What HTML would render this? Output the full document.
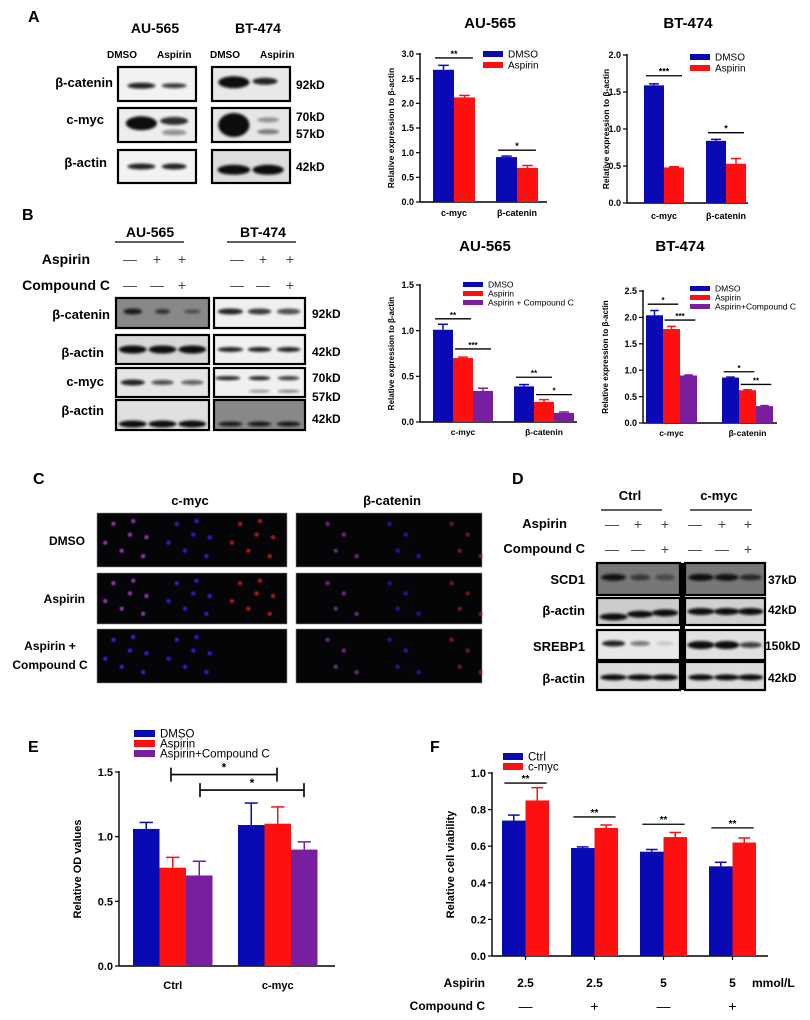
<!DOCTYPE html>
<html><head><meta charset="utf-8"><style>
html,body{margin:0;padding:0;background:#fff}
svg{display:block;font-family:"Liberation Sans",Arial,sans-serif}
text{font-weight:bold}
</style></head><body>
<svg id="fig" width="810" height="1020" viewBox="0 0 810 1020" xmlns="http://www.w3.org/2000/svg">
<defs><filter id="bl" x="-20%" y="-50%" width="140%" height="200%"><feGaussianBlur stdDeviation="1.2"/></filter>
<filter id="bl2"><feGaussianBlur stdDeviation="0.8"/></filter></defs>
<g id="static">
<text x="28" y="22" font-size="16">A</text>
<text x="155" y="33" font-size="14" text-anchor="middle">AU-565</text>
<text x="258" y="33" font-size="14" text-anchor="middle">BT-474</text>
<text x="107" y="58" font-size="10">DMSO</text>
<text x="157" y="58" font-size="10">Aspirin</text>
<text x="210" y="58" font-size="10">DMSO</text>
<text x="260" y="58" font-size="10">Aspirin</text>
<text x="22" y="220" font-size="16">B</text>
<text x="150" y="237" font-size="14" text-anchor="middle">AU-565</text>
<line x1="115" y1="242" x2="184" y2="242" stroke="#000" stroke-width="1.2"/>
<text x="263" y="237" font-size="14" text-anchor="middle">BT-474</text>
<line x1="227" y1="242" x2="296" y2="242" stroke="#000" stroke-width="1.2"/>
<text x="90" y="264" font-size="14" text-anchor="end">Aspirin</text>
<text x="110" y="290" font-size="14" text-anchor="end">Compound C</text>
<text x="33" y="484" font-size="16">C</text>
<text x="190" y="505" font-size="13" text-anchor="middle">c-myc</text>
<text x="392" y="505" font-size="13" text-anchor="middle">β-catenin</text>
<text x="85" y="545" font-size="12" text-anchor="end">DMSO</text>
<text x="85" y="603" font-size="12" text-anchor="end">Aspirin</text>
<text x="50" y="650" font-size="12" text-anchor="middle">Aspirin +</text>
<text x="50" y="669" font-size="12" text-anchor="middle">Compound C</text>
<text x="512" y="484" font-size="16">D</text>
<text x="630" y="500" font-size="13" text-anchor="middle">Ctrl</text>
<line x1="601" y1="510" x2="662" y2="510" stroke="#000" stroke-width="1.2"/>
<text x="719" y="500" font-size="13" text-anchor="middle">c-myc</text>
<line x1="690" y1="510" x2="752" y2="510" stroke="#000" stroke-width="1.2"/>
<text x="567" y="528" font-size="13" text-anchor="end">Aspirin</text>
<text x="585" y="553" font-size="13" text-anchor="end">Compound C</text>
<text x="28" y="752" font-size="16">E</text>
<text x="430" y="752" font-size="16">F</text>
<text x="485" y="987" font-size="12" text-anchor="end">Aspirin</text>
<text x="485" y="1010" font-size="12" text-anchor="end">Compound C</text>
<text x="752" y="987" font-size="12">mmol/L</text>
</g>
</svg>
<script>
// ---------- chart data ----------
const catsAB = ["c-myc", "β-catenin"];
const a1Dmso = [2.68, 0.91], a1DmsoErr = [0.09, 0.02];
const a1Asp = [2.12, 0.69], a1AspErr = [0.04, 0.05];
const a1Ticks = ["0.0","0.5","1.0","1.5","2.0","2.5","3.0"];
const a2Dmso = [1.59, 0.84], a2DmsoErr = [0.02, 0.02];
const a2Asp = [0.48, 0.53], a2AspErr = [0.01, 0.07];
const a2Ticks = ["0.0","0.5","1.0","1.5","2.0"];
const b1Dmso = [1.01, 0.39], b1DmsoErr = [0.06, 0.02];
const b1Asp = [0.70, 0.22], b1AspErr = [0.01, 0.025];
const b1Cc = [0.34, 0.10], b1CcErr = [0.03, 0.01];
const b1Ticks = ["0.0","0.5","1.0","1.5"];
const b2Dmso = [2.04, 0.86], b2DmsoErr = [0.09, 0.01];
const b2Asp = [1.78, 0.62], b2AspErr = [0.05, 0.01];
const b2Cc = [0.90, 0.32], b2CcErr = [0.01, 0.01];
const b2Ticks = ["0.0","0.5","1.0","1.5","2.0","2.5"];
const eCats = ["Ctrl", "c-myc"];
const eDmso = [1.06, 1.09], eDmsoErr = [0.05, 0.17];
const eAsp = [0.76, 1.10], eAspErr = [0.08, 0.13];
const eCc = [0.70, 0.90], eCcErr = [0.11, 0.06];
const eTicks = ["0.0","0.5","1.0","1.5"];
const fAspirinDose = ["2.5", "2.5", "5", "5"];
const fCompoundC = ["—", "+", "—", "+"];
const fCtrl = [0.74, 0.59, 0.57, 0.49], fCtrlErr = [0.03, 0.006, 0.012, 0.022];
const fCmyc = [0.85, 0.70, 0.65, 0.62], fCmycErr = [0.07, 0.016, 0.025, 0.025];
const fTicks = ["0.0","0.2","0.4","0.6","0.8","1.0"];

const BLUE = "#0a0ab4", RED = "#ff1010", PURPLE = "#7a1ea0";
const NS = "http://www.w3.org/2000/svg";
const svg = document.getElementById("fig");
function el(tag, attrs, parent, txt) {
  const e = document.createElementNS(NS, tag);
  for (const k in attrs) e.setAttribute(k, attrs[k]);
  if (txt !== undefined) e.textContent = txt;
  (parent || svg).appendChild(e);
  return e;
}

function chart(c) {
  const g = el("g", {});
  
  
  const maxV = parseFloat(c.ticks[c.ticks.length - 1]);
  const y = v => c.y0 - (v / maxV) * (c.y0 - c.yTop);
  el("line", {x1: c.ax, y1: c.yTop - 1, x2: c.ax, y2: c.y0, stroke: "#000", "stroke-width": 1.4}, g);
  el("line", {x1: c.ax, y1: c.y0, x2: c.axEnd, y2: c.y0, stroke: "#000", "stroke-width": 1.4}, g);
  c.ticks.forEach(t => {
    const ty = y(parseFloat(t));
    el("line", {x1: c.ax - 4, y1: ty, x2: c.ax, y2: ty, stroke: "#000", "stroke-width": 1.2}, g);
    const lab = el("text", {x: c.ax - 6, y: ty + c.tf * 0.36, "font-size": c.tf, "text-anchor": "end"}, g, t);
    
    
  });
  const yt = el("text", {x: 0, y: 0, "font-size": c.yf, "text-anchor": "middle", transform: `translate(${c.ytX},${(c.y0 + c.yTop) / 2}) rotate(-90)`}, g, c.yTitle);
  
  
  const nS = c.series.length;
  c.groupX.forEach((gx, gi) => {
    c.series.forEach((s, si) => {
      const x = gx + si * c.bw;
      const v = s.vals[gi], e = s.errs[gi];
      const b = el("rect", {x: x, y: y(v), width: c.bw, height: c.y0 - y(v), fill: s.color}, g);
      
      
      const cx = x + c.bw / 2;
      el("line", {x1: cx, y1: y(v), x2: cx, y2: y(v + e), stroke: s.color, "stroke-width": 1.5}, g);
      el("line", {x1: cx - c.bw * 0.25, y1: y(v + e), x2: cx + c.bw * 0.25, y2: y(v + e), stroke: s.color, "stroke-width": 1.5}, g);
    });
    if (c.cats) {
      const cl = el("text", {x: gx + nS * c.bw / 2, y: c.catY, "font-size": c.cf, "text-anchor": "middle"}, g, c.cats[gi]);
      
      
    }
  });
  (c.sig || []).forEach(s => {
    const x1 = c.groupX[s.g] + s.a * c.bw + c.bw * 0.1, x2 = c.groupX[s.g] + (s.b + 1) * c.bw - c.bw * 0.1;
    const yy = y(s.v);
    el("line", {x1: x1, y1: yy, x2: x2, y2: yy, stroke: "#000", "stroke-width": 1.3}, g);
    el("text", {x: (x1 + x2) / 2, y: yy - 1, "font-size": c.sf, "text-anchor": "middle"}, g, s.t);
  });
  c.series.forEach((s, si) => {
    const ly = c.legY + si * c.legDy;
    const lr = el("rect", {x: c.legX, y: ly, width: c.legW, height: c.legH, fill: s.color}, g);
    
    
    const lt = el("text", {x: c.legX + c.legW + 5, y: ly + c.legH / 2 + c.lf * 0.36, "font-size": c.lf, style: "font-weight:normal"}, g, s.label);
    
    
  });
  if (c.title) {
    const tt = el("text", {x: c.titleX, y: c.titleY, "font-size": 15, "text-anchor": "middle"}, g, c.title);
    
    
  }
  return y;
}

const yTitleAB = "Relative expression to β-actin";
chart({name: "chart-a-au565", title: "AU-565", titleX: 490, titleY: 28, ax: 420, axEnd: 547, y0: 202, yTop: 54, ticks: a1Ticks, tf: 9, yf: 8.5, ytX: 394, yTitle: yTitleAB,
  groupX: [433, 496], bw: 21, cats: catsAB, catY: 216, cf: 9,
  series: [{key: "dmso", label: "DMSO", color: BLUE, vals: a1Dmso, errs: a1DmsoErr}, {key: "aspirin", label: "Aspirin", color: RED, vals: a1Asp, errs: a1AspErr}],
  sig: [{g: 0, a: 0, b: 1, v: 2.92, t: "**"}, {g: 1, a: 0, b: 1, v: 1.05, t: "*"}], sf: 9,
  legX: 483, legY: 51, legDy: 11, legW: 20, legH: 6, lf: 10});
chart({name: "chart-a-bt474", title: "BT-474", titleX: 688, titleY: 28, ax: 627, axEnd: 748, y0: 203, yTop: 55, ticks: a2Ticks, tf: 9, yf: 8.5, ytX: 609, yTitle: yTitleAB,
  groupX: [644, 706], bw: 20, cats: catsAB, catY: 219, cf: 9,
  series: [{key: "dmso", label: "DMSO", color: BLUE, vals: a2Dmso, errs: a2DmsoErr}, {key: "aspirin", label: "Aspirin", color: RED, vals: a2Asp, errs: a2AspErr}],
  sig: [{g: 0, a: 0, b: 1, v: 1.72, t: "***"}, {g: 1, a: 0, b: 1, v: 0.95, t: "*"}], sf: 9,
  legX: 690, legY: 54, legDy: 11, legW: 20, legH: 6, lf: 10});
chart({name: "chart-b-au565", title: "AU-565", titleX: 485, titleY: 251, ax: 420, axEnd: 577, y0: 422, yTop: 285, ticks: b1Ticks, tf: 9, yf: 8, ytX: 394, yTitle: yTitleAB,
  groupX: [433, 514], bw: 20, cats: catsAB, catY: 435, cf: 8.5,
  series: [{key: "dmso", label: "DMSO", color: BLUE, vals: b1Dmso, errs: b1DmsoErr}, {key: "aspirin", label: "Aspirin", color: RED, vals: b1Asp, errs: b1AspErr}, {key: "aspirin-cc", label: "Aspirin + Compound C", color: PURPLE, vals: b1Cc, errs: b1CcErr}],
  sig: [{g: 0, a: 0, b: 1, v: 1.13, t: "**"}, {g: 0, a: 1, b: 2, v: 0.80, t: "***"}, {g: 1, a: 0, b: 1, v: 0.49, t: "**"}, {g: 1, a: 1, b: 2, v: 0.30, t: "*"}], sf: 8,
  legX: 463, legY: 282, legDy: 9, legW: 20, legH: 5, lf: 8.5});
chart({name: "chart-b-bt474", title: "BT-474", titleX: 680, titleY: 251, ax: 643, axEnd: 777, y0: 423, yTop: 291, ticks: b2Ticks, tf: 9, yf: 8, ytX: 608, yTitle: yTitleAB,
  groupX: [646, 722], bw: 17, cats: catsAB, catY: 436, cf: 8.5,
  series: [{key: "dmso", label: "DMSO", color: BLUE, vals: b2Dmso, errs: b2DmsoErr}, {key: "aspirin", label: "Aspirin", color: RED, vals: b2Asp, errs: b2AspErr}, {key: "aspirin-cc", label: "Aspirin+Compound C", color: PURPLE, vals: b2Cc, errs: b2CcErr}],
  sig: [{g: 0, a: 0, b: 1, v: 2.25, t: "*"}, {g: 0, a: 1, b: 2, v: 1.95, t: "***"}, {g: 1, a: 0, b: 1, v: 0.97, t: "*"}, {g: 1, a: 1, b: 2, v: 0.73, t: "**"}], sf: 8,
  legX: 690, legY: 286, legDy: 9, legW: 20, legH: 5, lf: 8.5});
const yE = chart({name: "chart-e-od", ax: 119, axEnd: 335, y0: 966, yTop: 772, ticks: eTicks, tf: 11, yf: 11, ytX: 81, yTitle: "Relative OD values",
  groupX: [133, 238], bw: 26.5, cats: eCats, catY: 989, cf: 11,
  series: [{key: "dmso", label: "DMSO", color: BLUE, vals: eDmso, errs: eDmsoErr}, {key: "aspirin", label: "Aspirin", color: RED, vals: eAsp, errs: eAspErr}, {key: "aspirin-cc", label: "Aspirin+Compound C", color: PURPLE, vals: eCc, errs: eCcErr}],
  sig: [], sf: 11, legX: 134, legY: 730, legDy: 10, legW: 21, legH: 7, lf: 11.5});
[[171, 277, 1.48], [200, 304, 1.36]].forEach(b => {
  const yy = yE(b[2]);
  el("path", {d: `M${b[0]},${yy - 7}V${yy + 7}M${b[0]},${yy}H${b[1]}M${b[1]},${yy - 7}V${yy + 7}`, stroke: "#000", "stroke-width": 1.6, fill: "none"});
  el("text", {x: (b[0] + b[1]) / 2, y: yy - 3, "font-size": 12, "text-anchor": "middle"}, svg, "*");
});
const yF = chart({name: "chart-f-viability", ax: 492, axEnd: 768, y0: 956, yTop: 773, ticks: fTicks, tf: 11, yf: 11, ytX: 454, yTitle: "Relative cell viability",
  groupX: [502, 571, 640, 709], bw: 23.5, cats: null,
  series: [{key: "ctrl", label: "Ctrl", color: BLUE, vals: fCtrl, errs: fCtrlErr}, {key: "cmyc", label: "c-myc", color: RED, vals: fCmyc, errs: fCmycErr}],
  sig: [{g: 0, a: 0, b: 1, v: 0.945, t: "**"}, {g: 1, a: 0, b: 1, v: 0.76, t: "**"}, {g: 2, a: 0, b: 1, v: 0.72, t: "**"}, {g: 3, a: 0, b: 1, v: 0.70, t: "**"}], sf: 10,
  legX: 503, legY: 753, legDy: 10, legW: 20, legH: 7, lf: 11.5});
[502, 571, 640, 709].forEach((gx, i) => {
  el("line", {x1: gx + 23.5, y1: 956, x2: gx + 23.5, y2: 960, stroke: "#000", "stroke-width": 1.2});
  const a = el("text", {x: gx + 23.5, y: 987, "font-size": 12, "text-anchor": "middle"}, svg, fAspirinDose[i]);
  
  
  const b = el("text", {x: gx + 23.5, y: 1011, "font-size": 14, style: "font-weight:normal", "text-anchor": "middle"}, svg, fCompoundC[i]);
  
  
});

// ---------- western blots (decorative) ----------
function blot(x, y, w, h, bg, bands, name) {
  const g = el("g", {});
  
  
  el("rect", {x: x, y: y, width: w, height: h, fill: bg, stroke: "#000", "stroke-width": 2.2}, g);
  bands.forEach(b => el("ellipse", {cx: x + b[0] * w, cy: y + b[1] * h, rx: b[2] * w, ry: b[3], fill: "#111", opacity: b[4], filter: "url(#bl)"}, g));
}
blot(118, 67, 78, 34, "#f2f2f2", [[0.3, 0.55, 0.18, 3, 0.9], [0.72, 0.55, 0.16, 2.5, 0.8]], "blot-a-au565-bcatenin");
blot(118, 108, 78, 34, "#eee", [[0.3, 0.45, 0.2, 7, 1], [0.72, 0.38, 0.18, 4, 0.85], [0.72, 0.72, 0.16, 3, 0.4]], "blot-a-au565-cmyc");
blot(118, 150, 78, 33, "#f2f2f2", [[0.3, 0.5, 0.18, 3, 0.9], [0.72, 0.5, 0.16, 3, 0.9]], "blot-a-au565-bactin");
blot(212, 67, 78, 34, "#e8e8e8", [[0.28, 0.45, 0.2, 6, 1], [0.68, 0.42, 0.16, 3.5, 0.9]], "blot-a-bt474-bcatenin");
blot(212, 108, 78, 34, "#e6e6e6", [[0.28, 0.5, 0.2, 12, 1], [0.72, 0.35, 0.14, 2.5, 0.4], [0.72, 0.7, 0.14, 2.5, 0.5]], "blot-a-bt474-cmyc");
blot(212, 150, 78, 33, "#ddd", [[0.28, 0.6, 0.21, 5, 1], [0.72, 0.6, 0.2, 5, 1]], "blot-a-bt474-bactin");
blot(116, 298, 93, 30, "#888", [[0.18, 0.45, 0.1, 3, 0.9], [0.5, 0.45, 0.08, 2.5, 0.7], [0.82, 0.45, 0.09, 2, 0.5]], "blot-b-au565-bcatenin");
blot(116, 335, 93, 29, "#d8d8d8", [[0.18, 0.5, 0.15, 4, 1], [0.5, 0.5, 0.15, 4, 1], [0.82, 0.5, 0.15, 4, 1]], "blot-b-au565-bactin");
blot(116, 368, 93, 29, "#e6e6e6", [[0.18, 0.5, 0.13, 3, 0.9], [0.5, 0.5, 0.12, 2.5, 0.7], [0.82, 0.5, 0.12, 2.5, 0.6]], "blot-b-au565-cmyc");
blot(116, 400, 93, 30, "#e0e0e0", [[0.18, 0.8, 0.15, 3.5, 1], [0.5, 0.8, 0.15, 3.5, 1], [0.82, 0.8, 0.15, 3.5, 1]], "blot-b-au565-bactin2");
blot(214, 298, 91, 30, "#f0f0f0", [[0.18, 0.45, 0.14, 3, 0.9], [0.5, 0.45, 0.13, 3, 0.8], [0.82, 0.45, 0.13, 3, 0.7]], "blot-b-bt474-bcatenin");
blot(214, 335, 91, 29, "#f0f0f0", [[0.18, 0.5, 0.14, 2.5, 0.9], [0.5, 0.5, 0.13, 2.5, 0.9], [0.82, 0.5, 0.13, 2.5, 0.9]], "blot-b-bt474-bactin");
blot(214, 368, 91, 29, "#f0f0f0", [[0.15, 0.35, 0.14, 2, 0.9], [0.5, 0.35, 0.12, 2, 0.9], [0.82, 0.35, 0.12, 2, 0.8], [0.5, 0.8, 0.12, 1.5, 0.4], [0.82, 0.8, 0.12, 1.5, 0.5]], "blot-b-bt474-cmyc");
blot(214, 400, 91, 30, "#888", [[0.18, 0.8, 0.13, 2.5, 0.9], [0.5, 0.8, 0.13, 2.5, 0.9], [0.82, 0.8, 0.13, 2.5, 0.9]], "blot-b-bt474-bactin2");
blot(597, 563, 83, 32, "#777", [[0.2, 0.45, 0.15, 3.5, 0.95], [0.52, 0.45, 0.12, 3, 0.6], [0.82, 0.45, 0.12, 3, 0.45]], "blot-d-ctrl-scd1");
blot(597, 598, 83, 27, "#ccc", [[0.2, 0.7, 0.17, 3.5, 1], [0.52, 0.6, 0.16, 3.5, 1], [0.82, 0.55, 0.16, 3.5, 1]], "blot-d-ctrl-bactin");
blot(597, 630, 83, 30, "#e8e8e8", [[0.2, 0.45, 0.14, 3, 0.9], [0.52, 0.45, 0.12, 2.5, 0.5], [0.82, 0.45, 0.1, 2, 0.15]], "blot-d-ctrl-srebp1");
blot(597, 662, 83, 28, "#ddd", [[0.2, 0.55, 0.16, 3, 1], [0.52, 0.55, 0.16, 3, 1], [0.82, 0.55, 0.16, 3, 1]], "blot-d-ctrl-bactin2");
blot(685, 563, 80, 32, "#777", [[0.2, 0.45, 0.16, 3.5, 1], [0.52, 0.45, 0.15, 3.5, 0.95], [0.82, 0.45, 0.14, 3, 0.75]], "blot-d-cmyc-scd1");
blot(685, 598, 80, 27, "#d0d0d0", [[0.2, 0.5, 0.17, 3.5, 1], [0.52, 0.5, 0.16, 3.5, 1], [0.82, 0.5, 0.16, 3.5, 1]], "blot-d-cmyc-bactin");
blot(685, 630, 80, 30, "#e0e0e0", [[0.2, 0.5, 0.17, 4, 1], [0.52, 0.5, 0.16, 4, 1], [0.82, 0.5, 0.14, 3, 0.75]], "blot-d-cmyc-srebp1");
blot(685, 662, 80, 28, "#ddd", [[0.2, 0.55, 0.16, 3, 1], [0.52, 0.55, 0.16, 3, 1], [0.82, 0.55, 0.16, 3, 1]], "blot-d-cmyc-bactin2");
el("rect", {x: 680, y: 563, width: 5, height: 127, fill: "#000"});

function txt(x, y, s, fs, name, anchor) {
  const t = el("text", {x: x, y: y, "font-size": fs, "text-anchor": anchor || "start"}, svg, s);
  
  
}
txt(113, 87, "β-catenin", 13, "row-label-bcatenin", "end");
txt(104, 124, "c-myc", 13, "row-label-cmyc", "end");
txt(107, 167, "β-actin", 13, "row-label-bactin", "end");
txt(296, 89, "92kD", 12, "mw-92kd");
txt(296, 121, "70kD", 12, "mw-70kd");
txt(296, 138, "57kD", 12, "mw-57kd");
txt(296, 171, "42kD", 12, "mw-42kd");
txt(110, 319, "β-catenin", 13, "b-row-bcatenin", "end");
txt(104, 357, "β-actin", 13, "b-row-bactin", "end");
txt(104, 386, "c-myc", 13, "b-row-cmyc", "end");
txt(104, 415, "β-actin", 13, "b-row-bactin2", "end");
txt(312, 318, "92kD", 12, "b-mw-92kd");
txt(312, 356, "42kD", 12, "b-mw-42kd");
txt(312, 382, "70kD", 12, "b-mw-70kd");
txt(312, 401, "57kD", 12, "b-mw-57kd");
txt(312, 423, "42kD", 12, "b-mw-42kd2");
txt(585, 584, "SCD1", 13, "d-row-scd1", "end");
txt(585, 615, "β-actin", 13, "d-row-bactin", "end");
txt(585, 651, "SREBP1", 13, "d-row-srebp1", "end");
txt(585, 683, "β-actin", 13, "d-row-bactin2", "end");
txt(768, 584, "37kD", 12, "d-mw-37kd");
txt(768, 614, "42kD", 12, "d-mw-42kd");
txt(765, 650, "150kD", 12, "d-mw-150kd");
txt(768, 682, "42kD", 12, "d-mw-42kd2");
function pm(xs, y, arr, name) {
  xs.forEach((x, i) => {
    const t = el("text", {x: x, y: y, "font-size": 14, style: "font-weight:normal;fill:#444", "text-anchor": "middle"}, svg, arr[i]);
    
    
  });
}
pm([130, 157, 182, 237, 263, 290], 264, ["—", "+", "+", "—", "+", "+"], "b-aspirin-flag");
pm([130, 157, 182, 237, 263, 290], 290, ["—", "—", "+", "—", "—", "+"], "b-compound-c-flag");
pm([612, 638, 665, 695, 722, 748], 529, ["—", "+", "+", "—", "+", "+"], "d-aspirin-flag");
pm([612, 638, 665, 695, 722, 748], 554, ["—", "—", "+", "—", "—", "+"], "d-compound-c-flag");

const ifRows = [[513, 567], [573, 624], [629, 683]];
const ifCols = [[97, 287], [296, 482]];
const dots = [[0.1, 0.2], [0.2, 0.4], [0.15, 0.7], [0.28, 0.8], [0.22, 0.15], [0.05, 0.55], [0.3, 0.45]];
ifRows.forEach((r, ri) => ifCols.forEach((c, ci) => {
  const g = el("g", {});
  
  
  el("rect", {x: c[0], y: r[0], width: c[1] - c[0], height: r[1] - r[0], fill: "#050508", stroke: "#888", "stroke-width": 0.6}, g);
  const w = (c[1] - c[0]) / 3;
  const cols = ["#b040d0", "#2a2aff", "#d02020"];
  for (let k = 0; k < 3; k++) {
    let col = cols[k];
    if (ri === 2 && ci === 0 && k === 0) col = "#3030ff";
    if (ri === 2 && ci === 0 && k === 2) continue;
    const n = ci === 1 ? 4 : 7;
    dots.slice(0, n).forEach((d) => {
      el("circle", {cx: c[0] + k * w + (d[0] * 2.6 + (ci ? 0.25 : 0)) * w, cy: r[0] + d[1] * (r[1] - r[0]), r: 2.2, fill: col, opacity: ci ? 0.6 : 0.8, filter: "url(#bl2)"}, g);
    });
  }
}));
</script>
</body></html>
